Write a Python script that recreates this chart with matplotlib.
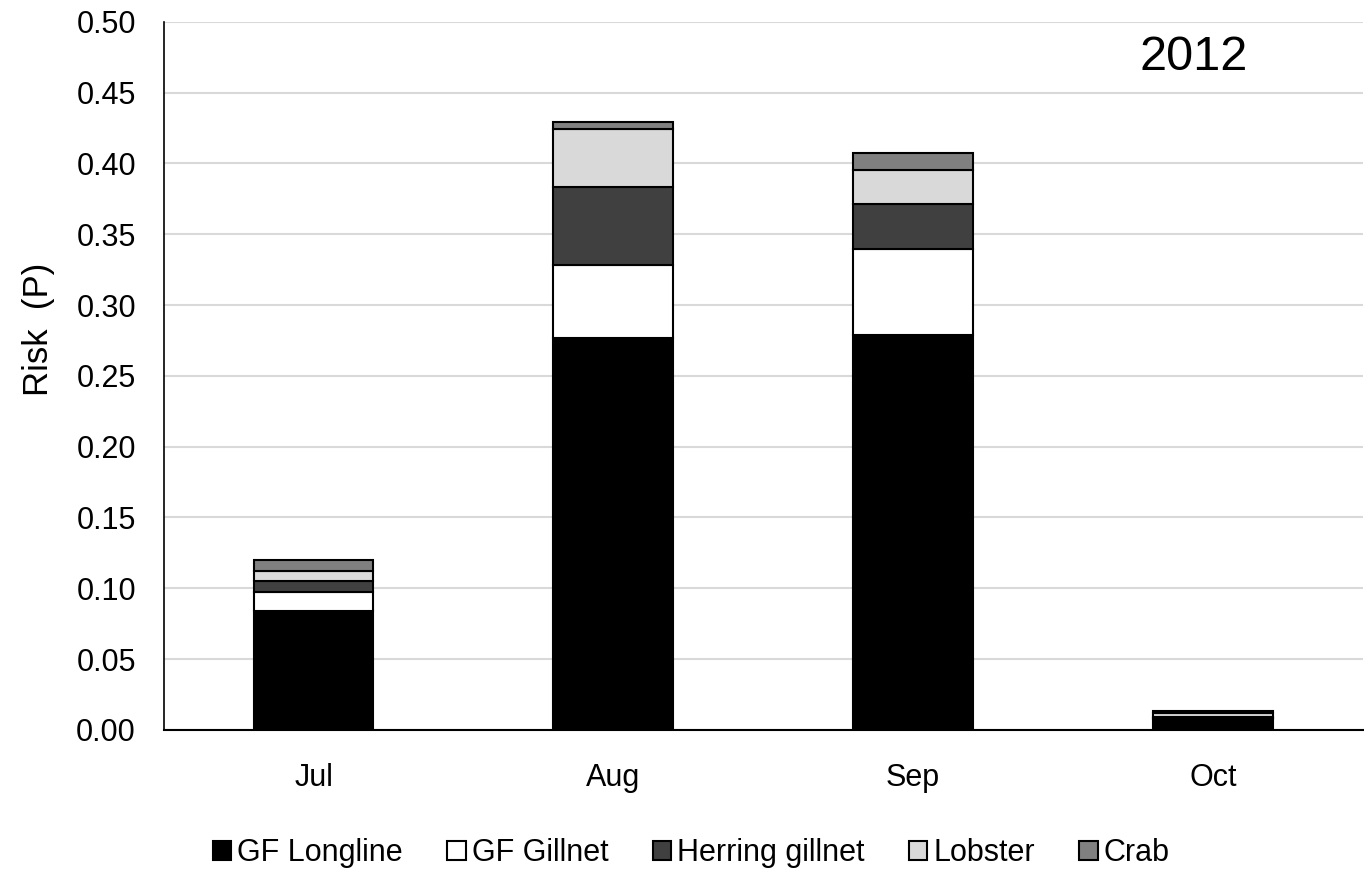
import numpy as np
import matplotlib.pyplot as plt

plt.rcParams['font.family'] = ['Liberation Sans', 'DejaVu Sans']

months = ['Jul', 'Aug', 'Sep', 'Oct']
gear = ['GF Longline', 'GF Gillnet', 'Herring gillnet', 'Lobster', 'Crab']
gf_longline = [0.084, 0.277, 0.279, 0.0075]
gf_gillnet = [0.0137, 0.051, 0.0605, 0.0007]
herring_gillnet = [0.0077, 0.055, 0.032, 0.0007]
lobster = [0.0071, 0.041, 0.024, 0.0027]
crab = [0.0071, 0.0054, 0.0118, 0.0015]
colors = ['#000000', '#ffffff', '#404040', '#d9d9d9', '#808080']

series = [gf_longline, gf_gillnet, herring_gillnet, lobster, crab]

fig = plt.figure(figsize=(13.64, 8.72), dpi=100)
ax = fig.add_axes([0.12, 0.163, 0.879, 0.812])

x = np.arange(len(months))
bottom = np.zeros(len(months))
for name, vals, c in zip(gear, series, colors):
    ax.bar(x, vals, 0.4, bottom=bottom, color=c, edgecolor='black',
           linewidth=1.5, label=name, zorder=3)
    bottom += np.array(vals)

ax.set_xlim(-0.5, 3.5)
ax.set_ylim(0, 0.5)
yt = np.arange(0, 0.51, 0.05)
ax.set_yticks(yt)
ax.set_yticklabels(['%.2f' % v for v in yt])
ax.set_xticks(x)
ax.set_xticklabels(months)
ax.tick_params(axis='both', length=0, labelsize=22)
ax.tick_params(axis='y', pad=20)
ax.tick_params(axis='x', pad=24)
ax.yaxis.grid(True, color='#d9d9d9', linewidth=1.5, zorder=0)
ax.set_axisbelow(True)
for s in ['top', 'right']:
    ax.spines[s].set_visible(False)
ax.spines['left'].set_linewidth(1.2)
ax.spines['bottom'].set_linewidth(1.5)
ax.set_ylabel('Risk  (P)', fontsize=25)
ax.yaxis.set_label_coords(-0.091, 0.565)

ax.text(0.904, 0.949, '2012', transform=ax.transAxes, fontsize=35,
        ha='right', va='center')

ax.legend(loc='center', bbox_to_anchor=(0.44, -0.174), ncol=5,
          frameon=False, fontsize=22, handlelength=0.6, handleheight=0.6,
          handletextpad=0.2, columnspacing=1.45)

fig.savefig('out.png', dpi=100)
